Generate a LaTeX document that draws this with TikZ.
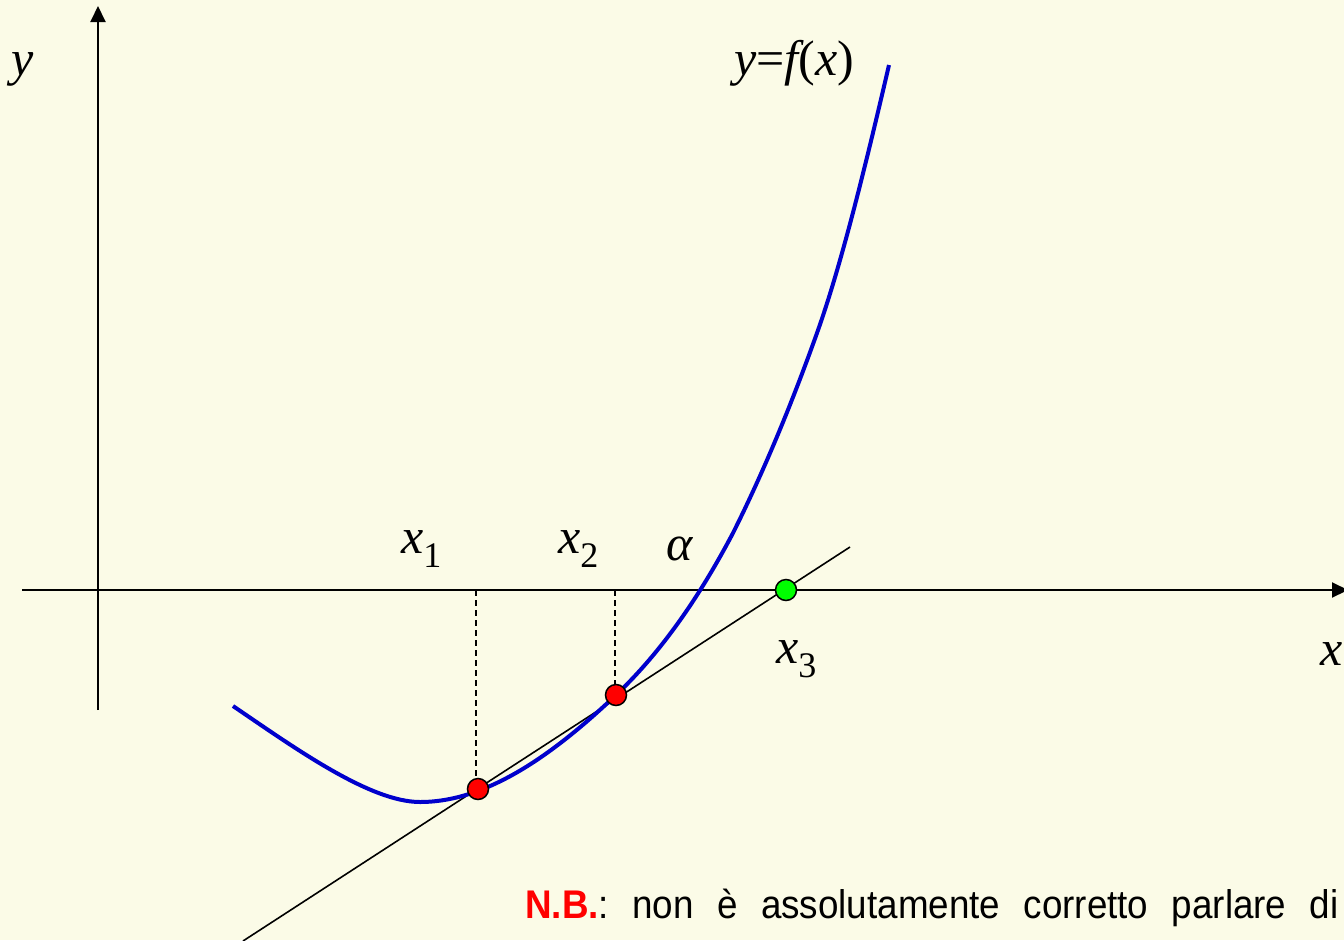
\documentclass[tikz,border=0pt]{standalone}
\usepackage{fontspec}
\usepackage{graphicx}
\setmainfont{Liberation Serif}
\newfontfamily\sansf{Liberation Sans}
\usetikzlibrary{arrows.meta}
\definecolor{bg}{RGB}{251,251,231}
\definecolor{curveblue}{RGB}{0,0,204}
\definecolor{dotred}{RGB}{255,0,0}
\definecolor{dotgreen}{RGB}{0,255,0}
\newcommand\lab{\fontsize{50}{60}\selectfont\itshape}
\newcommand\sub[1]{\raisebox{-14pt}{\fontsize{36}{40}\selectfont\upshape #1}}
\tikzset{
  axisline/.style={line width=2pt, -{Triangle[width=15pt,length=16pt]}},
  secant/.style={line width=1.6pt},
  guide/.style={line width=1.8pt, dash pattern=on 6pt off 4pt},
  fcurve/.style={line width=4pt, curveblue},
  dotbase/.style={circle, draw=black, line width=1.5pt, inner sep=0pt, minimum size=21pt},
  reddot/.style={dotbase, fill=dotred},
  greendot/.style={dotbase, fill=dotgreen},
  label/.style={anchor=base west, inner sep=0pt},
}
\begin{document}
\begin{tikzpicture}[x=1pt,y=-1pt]
\useasboundingbox (0,0) rectangle (1344,940);
\fill[bg] (0,0) rectangle (1344,940);
\begin{scope}
\clip (0,0) rectangle (1344,940);
% axes
\coordinate (xs) at (22,590);
\coordinate (xe) at (1348,590);
\coordinate (ys) at (98,710);
\coordinate (ye) at (98,6);
\draw[axisline] (xs) -- (xe);
\draw[axisline] (ys) -- (ye);
% points
\coordinate (P1c) at (478,789);
\coordinate (P2c) at (616,695);
\coordinate (P3c) at (786,590);
\coordinate (d1) at (476,590);
\coordinate (d2) at (615,590);
\coordinate (s0) at (243,941);
\coordinate (s1) at (850,547);
% guides
\draw[guide] (d1) -- (d1 |- P1c);
\draw[guide] (d2) -- (d2 |- P2c);
% secant
\draw[secant] (s0) -- (s1);
% curve
\coordinate (cA) at (233,706);
\coordinate (cB) at (420,802);
\coordinate (cC) at (616,695);
\coordinate (cD) at (733,533);
\coordinate (cE) at (817,333);
\coordinate (cF) at (889,65);
\draw[fcurve] (cA) .. controls (295.3,748.4) and (370,802) .. (cB)
  .. controls (485.3,802) and (550.7,757) .. (cC)
  .. controls (655,658) and (694,607.1) .. (cD)
  .. controls (761,477) and (789,411.4) .. (cE)
  .. controls (841,265.8) and (865,168.2) .. (cF);
% dots
\node[reddot] (P1) at (P1c) {};
\node[reddot] (P2) at (P2c) {};
\node[greendot] (P3) at (P3c) {};
% labels
\node[label] (ylab) at (11,75) {\lab y};
\node[label] (xlab) at (1320,665) {\lab x};
\node[label] (flab) at (734,75) {\lab y\upshape=\itshape f\upshape(\itshape x\upshape)};
\node[label] (x1lab) at (401,553) {\lab x\sub{1}};
\node[label] (x2lab) at (558,553) {\lab x\sub{2}};
\node[label] (alab) at (666,560) {\lab α};
\node[label] (x3lab) at (776,663) {\lab x\sub{3}};
% note
\node[label] (nb) at (525,918) {\scalebox{0.92}[1]{\frenchspacing\makebox[884pt][s]{\sansf\fontsize{40}{48}\selectfont\textcolor{dotred}{\textbf{N.B.}}: non è assolutamente corretto parlare di}}};
\end{scope}
\end{tikzpicture}
\end{document}
